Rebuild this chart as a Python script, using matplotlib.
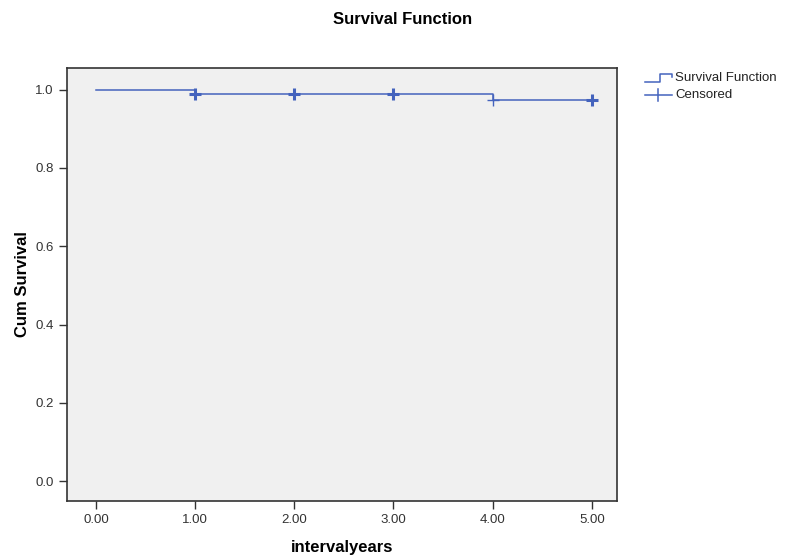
import matplotlib
matplotlib.use("Agg")
import matplotlib.pyplot as plt
from matplotlib.lines import Line2D

# step survival curve (time, cum survival) and censored marks
times = [0.0, 1.0, 4.0, 5.0]
surv = [1.0, 0.990, 0.974, 0.974]
cens_t = [1.0, 2.0, 3.0, 5.0]
cens_s = [0.990, 0.990, 0.990, 0.974]
cens_thin_t = [4.0]
cens_thin_s = [0.974]

LINE = "#4463bd"
plt.rcParams["font.family"] = ["Liberation Sans", "DejaVu Sans"]

fig = plt.figure(figsize=(7.9, 5.6), dpi=100)
ax = fig.add_axes([0.0848, 0.105, 0.696, 0.774])
ax.set_facecolor("#f0f0f0")

ax.step(times, surv, where="post", color=LINE, lw=1.1, zorder=3)
ax.plot(cens_t, cens_s, ls="none", marker="+", ms=9, mew=2.2, color=LINE, zorder=4)
ax.plot(cens_thin_t, cens_thin_s, ls="none", marker="+", ms=9, mew=1.0, color=LINE, zorder=4)

ax.set_xlim(-0.292, 5.252)
ax.set_ylim(-0.051, 1.056)
ax.set_xticks([0, 1, 2, 3, 4, 5])
ax.set_xticklabels([f"{v:.2f}" for v in [0, 1, 2, 3, 4, 5]])
ax.set_yticks([0, 0.2, 0.4, 0.6, 0.8, 1.0])
ax.set_yticklabels([f"{v:.1f}" for v in [0, 0.2, 0.4, 0.6, 0.8, 1.0]])
ax.tick_params(direction="out", length=6, width=1, color="#333333",
               labelsize=9.5, labelcolor="#333333")
for s in ax.spines.values():
    s.set_color("#333333")
    s.set_linewidth(1.2)

ax.set_xlabel("intervalyears", fontsize=12, fontweight="bold", labelpad=10)
ax.set_ylabel("Cum Survival", fontsize=12, fontweight="bold", labelpad=4)
fig.text(0.51, 0.965, "Survival Function", ha="center", va="center",
         fontsize=12, fontweight="bold")

# legend drawn outside the axes
tf = fig.transFigure
x0, x1 = 645 / 790, 672 / 790
xm = 660 / 790
y1 = 1 - 78 / 560
y2 = 1 - 95 / 560
fig.lines.append(Line2D([x0, xm, xm, x1, x1],
                        [y1 - 0.008, y1 - 0.008, y1 + 0.008, y1 + 0.008, y1 + 0.002],
                        color=LINE, lw=1.1, transform=tf))
fig.lines.append(Line2D([x0, x1], [y2, y2], color=LINE, lw=1.1, transform=tf))
fig.lines.append(Line2D([xm - 0.002] * 2, [y2 - 0.011, y2 + 0.011],
                        color=LINE, lw=1.1, transform=tf))
fig.text(x1 + 0.004, y1, "Survival Function", fontsize=9.5, va="center", color="#222222")
fig.text(x1 + 0.004, y2, "Censored", fontsize=9.5, va="center", color="#222222")

fig.savefig("out.png", dpi=100)
